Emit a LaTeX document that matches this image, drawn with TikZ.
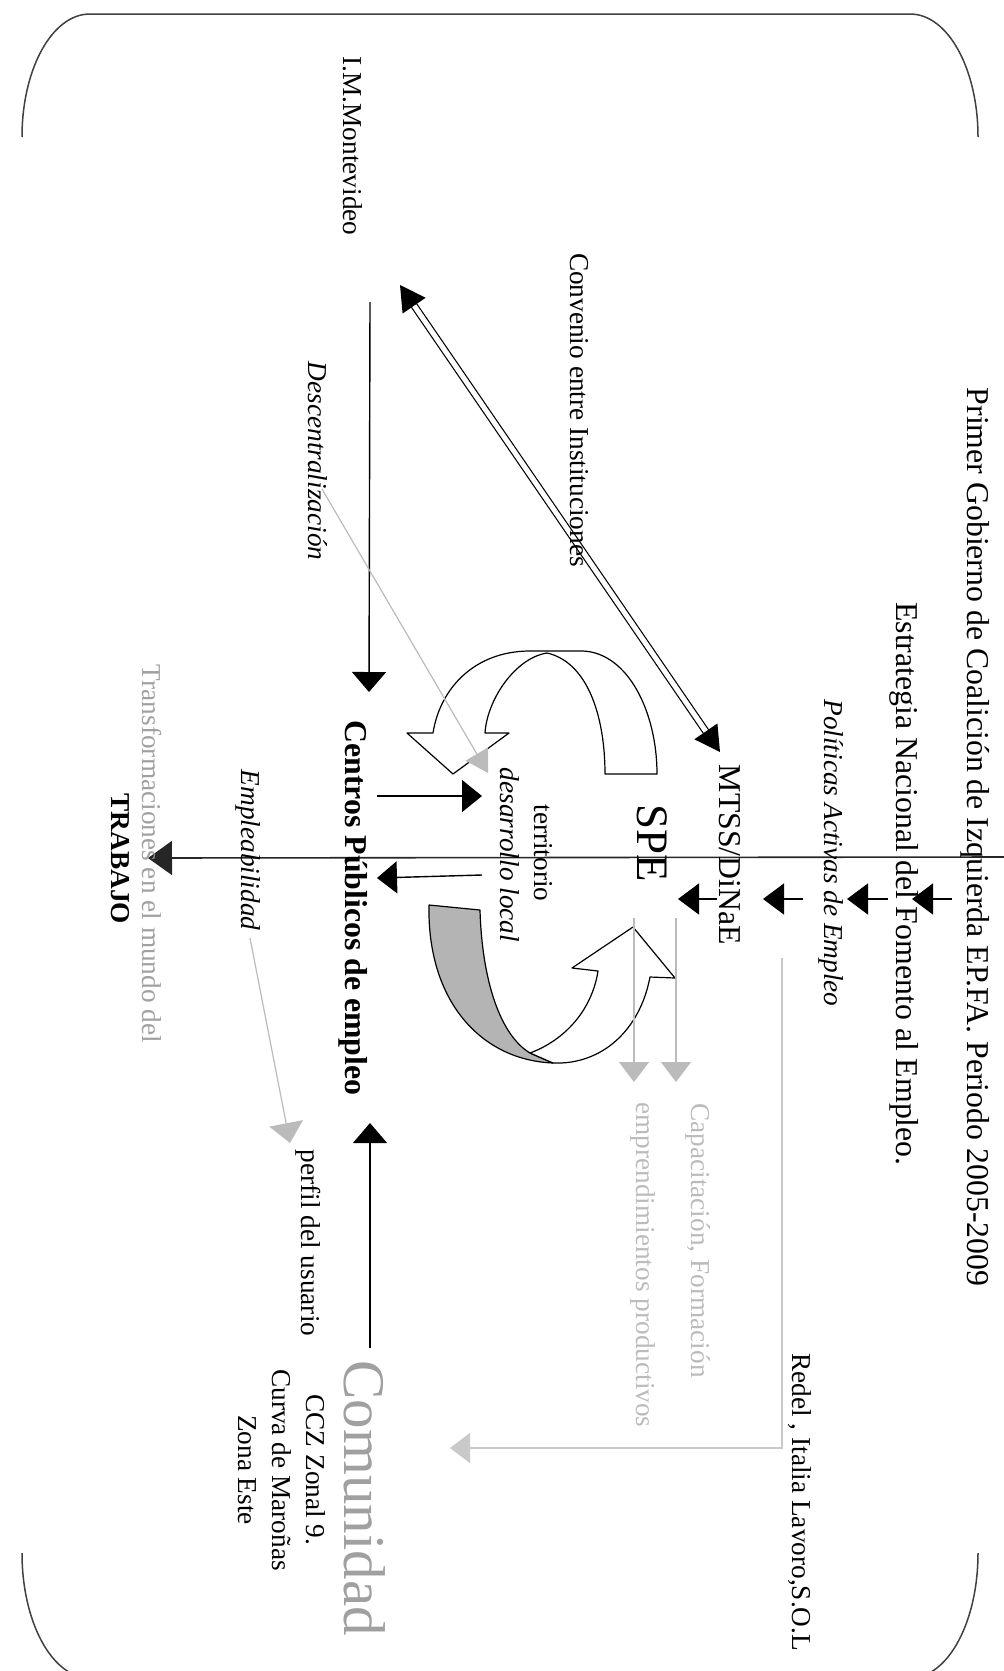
\documentclass[tikz,border=0pt]{standalone}
\usepackage{fontspec}
\setmainfont{Liberation Serif}
\setsansfont{Liberation Sans}
\usetikzlibrary{arrows.meta,calc}
\newcommand\fbase{\fontsize{27.3pt}{33pt}\selectfont}
\newcommand\fbig{\fontsize{31.8pt}{38pt}\selectfont}
\newcommand\fspe{\fontsize{45pt}{52pt}\selectfont}
\newcommand\fcom{\fontsize{59pt}{70pt}\selectfont}
\definecolor{lgray}{HTML}{BBBBBB}
\definecolor{tgray}{HTML}{A0A0A0}
\definecolor{bandgray}{HTML}{B4B4B4}
\definecolor{framec}{HTML}{404040}
\tikzset{
  lbl/.style={rotate=-90, inner sep=0pt, font=\fbase},
  blk/.style={line width=1.4pt, black, -{Triangle[length=21pt,width=31pt]}},
  gry/.style={line width=1.2pt, lgray, -{Triangle[length=20pt,width=30pt]}},
  framel/.style={line width=1.5pt, framec},
  curved/.style={line width=1.2pt, black, line join=round},
}
\begin{document}
\begin{tikzpicture}[x=1pt,y=-1pt]
\useasboundingbox (0,0) rectangle (1004,1671);
\clip (0,0) rectangle (1004,1671);
% frame
\draw[framel] (22,137) .. controls (22,69) and (52,14) .. (90,14) -- (910,14) .. controls (948,14) and (978,69) .. (978,137);
\draw[framel] (22,1553) .. controls (22,1622) and (52,1678) .. (90,1678);
\draw[framel] (978,1553) .. controls (978,1622) and (948,1678) .. (910,1678);
% top curved arrow
\draw[curved, fill=white]
  (657,774) -- (605,774)
  .. controls (605,715) and (587,662) .. (547,653)
  .. controls (515,658) and (487,700) .. (485,733)
  -- (509,733) -- (453,774) -- (407,733) -- (433,733)
  .. controls (440,688) and (475,651) .. (530,651)
  -- (583,651)
  .. controls (628,653) and (657,712) .. (657,774) -- cycle;
% bottom curved arrow
\draw[curved, fill=bandgray] (429,905) -- (480,910)
  .. controls (482,980) and (500,1035) .. (530,1053)
  -- (553,1063)
  .. controls (480,1060) and (427,1000) .. (429,905) -- cycle;
\draw[curved, fill=white] (530,1053) -- (553,1063)
  .. controls (602,1065) and (640,1030) .. (650,977)
  -- (675,978) -- (633,927) -- (572,968) -- (598,971)
  .. controls (592,1010) and (565,1040) .. (530,1053) -- cycle;
% coordinates
\coordinate (L1) at (1004,857);
\coordinate (L2) at (148,858);
\coordinate (a1s) at (717,899); \coordinate (a1e) at (678,899);
\coordinate (a2s) at (803,899); \coordinate (a2e) at (763,899);
\coordinate (a3s) at (888,899); \coordinate (a3e) at (847,899);
\coordinate (a4s) at (952,899); \coordinate (a4e) at (912,899);
\coordinate (r1) at (377,796); \coordinate (r2) at (482,796);
\coordinate (l1) at (482,875); \coordinate (l2) at (377,878);
\coordinate (d1) at (370,302); \coordinate (d2) at (369,692);
\coordinate (u1) at (370,1348); \coordinate (u2) at (370,1123);
\coordinate (D1) at (400,285); \coordinate (D2) at (720,752);
\coordinate (g1) at (322,489); \coordinate (g2) at (488,773);
\coordinate (g3) at (250,938); \coordinate (g4) at (290,1143);
\coordinate (g5) at (634,918); \coordinate (g6) at (634,1082);
\coordinate (g7) at (676,918); \coordinate (g8) at (676,1082);
\coordinate (g9) at (782,958); \coordinate (g10) at (782,1448); \coordinate (g11) at (450,1448);
% black arrows
\draw[line width=1.6pt, color=black!85, -{Triangle[length=24pt,width=34pt]}] (L1) -- (L2);
\foreach \s/\e in {a1s/a1e,a2s/a2e,a3s/a3e,a4s/a4e} \draw[blk] (\s) -- (\e);
\draw[blk, -{Triangle[length=20pt,width=32pt]}] (r1) -- (r2);
\draw[blk, -{Triangle[length=20pt,width=32pt]}] (l1) -- (l2);
\draw[blk, -{Triangle[length=20pt,width=34pt]}] (d1) -- (d2);
\draw[blk, -{Triangle[length=20pt,width=34pt]}] (u1) -- (u2);
% double arrow
\draw[line width=1.2pt, double distance=5pt, shorten <=20pt, shorten >=20pt] (D1) -- (D2);
\fill[black] (D1) -- ($(D1)!25pt!(D2)!14pt!90:(D2)$) -- ($(D1)!25pt!(D2)!14pt!-90:(D2)$) -- cycle;
\fill[black] (D2) -- ($(D2)!25pt!(D1)!14pt!90:(D1)$) -- ($(D2)!25pt!(D1)!14pt!-90:(D1)$) -- cycle;
% gray arrows
\draw[gry, -{Triangle[length=22pt,width=26pt]}] (g1) -- (g2);
\draw[gry, -{Triangle[length=20pt,width=34pt]}] (g3) -- (g4);
\draw[gry] (g5) -- (g6);
\draw[gry] (g7) -- (g8);
\draw[gry, color=lgray!80] (g9) -- (g10) -- (g11);
% texts
\node[lbl, font=\fbig] (title) at (975,837) {Primer Gobierno de Coalición de Izquierda EP.FA. Periodo 2005-2009};
\node[lbl, font=\fbig] (estr) at (904,884) {Estrategia Nacional del Fomento al Empleo.};
\node[lbl, font=\fbase\itshape] (pol) at (831,853) {Políticas Activas de Empleo};
\node[lbl, font=\fbig] (mtss) at (730,855) {MTSS/DiNaE};
\node[lbl, font=\fspe] (spe) at (652,843) {SPE};
\node[lbl] (terr) at (543,853) {territorio};
\node[lbl, font=\fbase\itshape] (desa) at (510,855) {desarrollo local};
\node[lbl, font=\fbig\bfseries] (cpe) at (353,908) {Centros Públicos de empleo};
\node[lbl, font=\fbase\itshape] (empl) at (248,850) {Empleabilidad};
\node[lbl, text=tgray] (transf) at (152,854) {Transformaciones en el mundo del};
\node[lbl, font=\fbase\bfseries] (trab) at (120,859) {TRABAJO};
\node[lbl] (im) at (353,146) {I.M.Montevideo};
\node[lbl] (conv) at (579,410) {Convenio entre Instituciones};
\node[lbl, font=\fbase\itshape] (desc) at (318,461) {Descentralización};
\node[lbl, text=lgray, anchor=west] (capa) at (698,1103) {Capacitación, Formación};
\node[lbl, text=lgray, anchor=west] (empr) at (643,1102) {emprendimientos productivos};
\node[lbl, anchor=west] (redel) at (800,1353) {Redel , Italia Lavoro,S.O.L};
\node[lbl, font=\fcom, text=tgray] (com) at (365,1498) {Comunidad};
\node[lbl, align=center, font=\fontsize{27.3pt}{34pt}\selectfont] (ccz) at (282,1470) {CCZ Zonal 9.\\Curva de Maroñas\\Zona Este};
\node[lbl] (perf) at (308,1243) {perfil del usuario};
\end{tikzpicture}
\end{document}
